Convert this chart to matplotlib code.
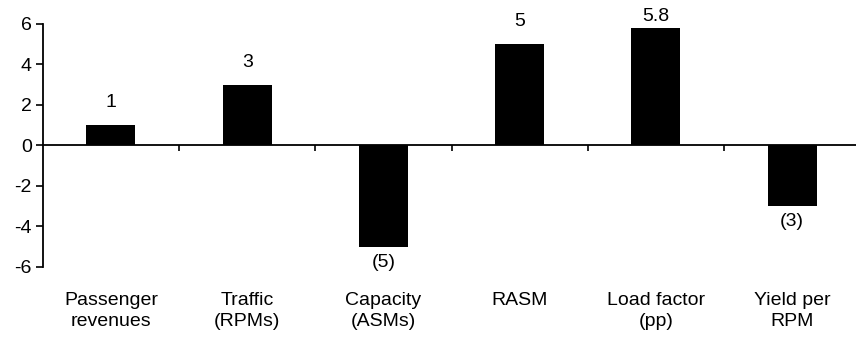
import matplotlib
matplotlib.use("Agg")
import matplotlib.pyplot as plt
import matplotlib.transforms as mtransforms

categories = ["Passenger\nrevenues", "Traffic\n(RPMs)", "Capacity\n(ASMs)", "RASM", "Load factor\n(pp)", "Yield per\nRPM"]
values = [1, 3, -5, 5, 5.8, -3]
value_labels = ["1", "3", "(5)", "5", "5.8", "(3)"]
y_ticks = [-6, -4, -2, 0, 2, 4, 6]

plt.rcParams["font.family"] = ["Liberation Sans", "DejaVu Sans"]
plt.rcParams["font.size"] = 14

fig = plt.figure(figsize=(8.56, 3.37), dpi=100)
ax = fig.add_axes([0.050, 0.208, 0.955, 0.721])

x = list(range(len(categories)))
ax.bar(x, values, width=0.36, color="black")

ax.set_xlim(-0.5, len(categories) - 0.5)
ax.set_ylim(-6, 6)
ax.set_yticks(y_ticks)
ax.set_yticklabels([str(t) for t in y_ticks])
ax.tick_params(axis="y", direction="out", length=5, width=1.2, pad=3)

for s in ["top", "right"]:
    ax.spines[s].set_visible(False)
ax.spines["left"].set_linewidth(1.3)
ax.spines["bottom"].set_position(("data", 0))
ax.spines["bottom"].set_linewidth(1.3)

ax.set_xticks([i + 0.5 for i in x[:-1]])
ax.set_xticklabels([])
ax.tick_params(axis="x", direction="out", length=4, width=1.2)

trans = mtransforms.blended_transform_factory(ax.transData, ax.transAxes)
for i, c in enumerate(categories):
    ax.text(i, -0.105, c, transform=trans, ha="center", va="top", linespacing=1.3)

for i, (v, lab) in enumerate(zip(values, value_labels)):
    if v >= 0:
        # top label gets squeezed against the plot edge, like the original
        dy = 10 if v < 5.5 else 2
        ax.annotate(lab, (i, v), xytext=(0, dy), textcoords="offset points",
                    ha="center", va="bottom")
    else:
        ax.annotate(lab, (i, v), xytext=(0, -5), textcoords="offset points",
                    ha="center", va="top")

fig.savefig("out.png", dpi=100)
